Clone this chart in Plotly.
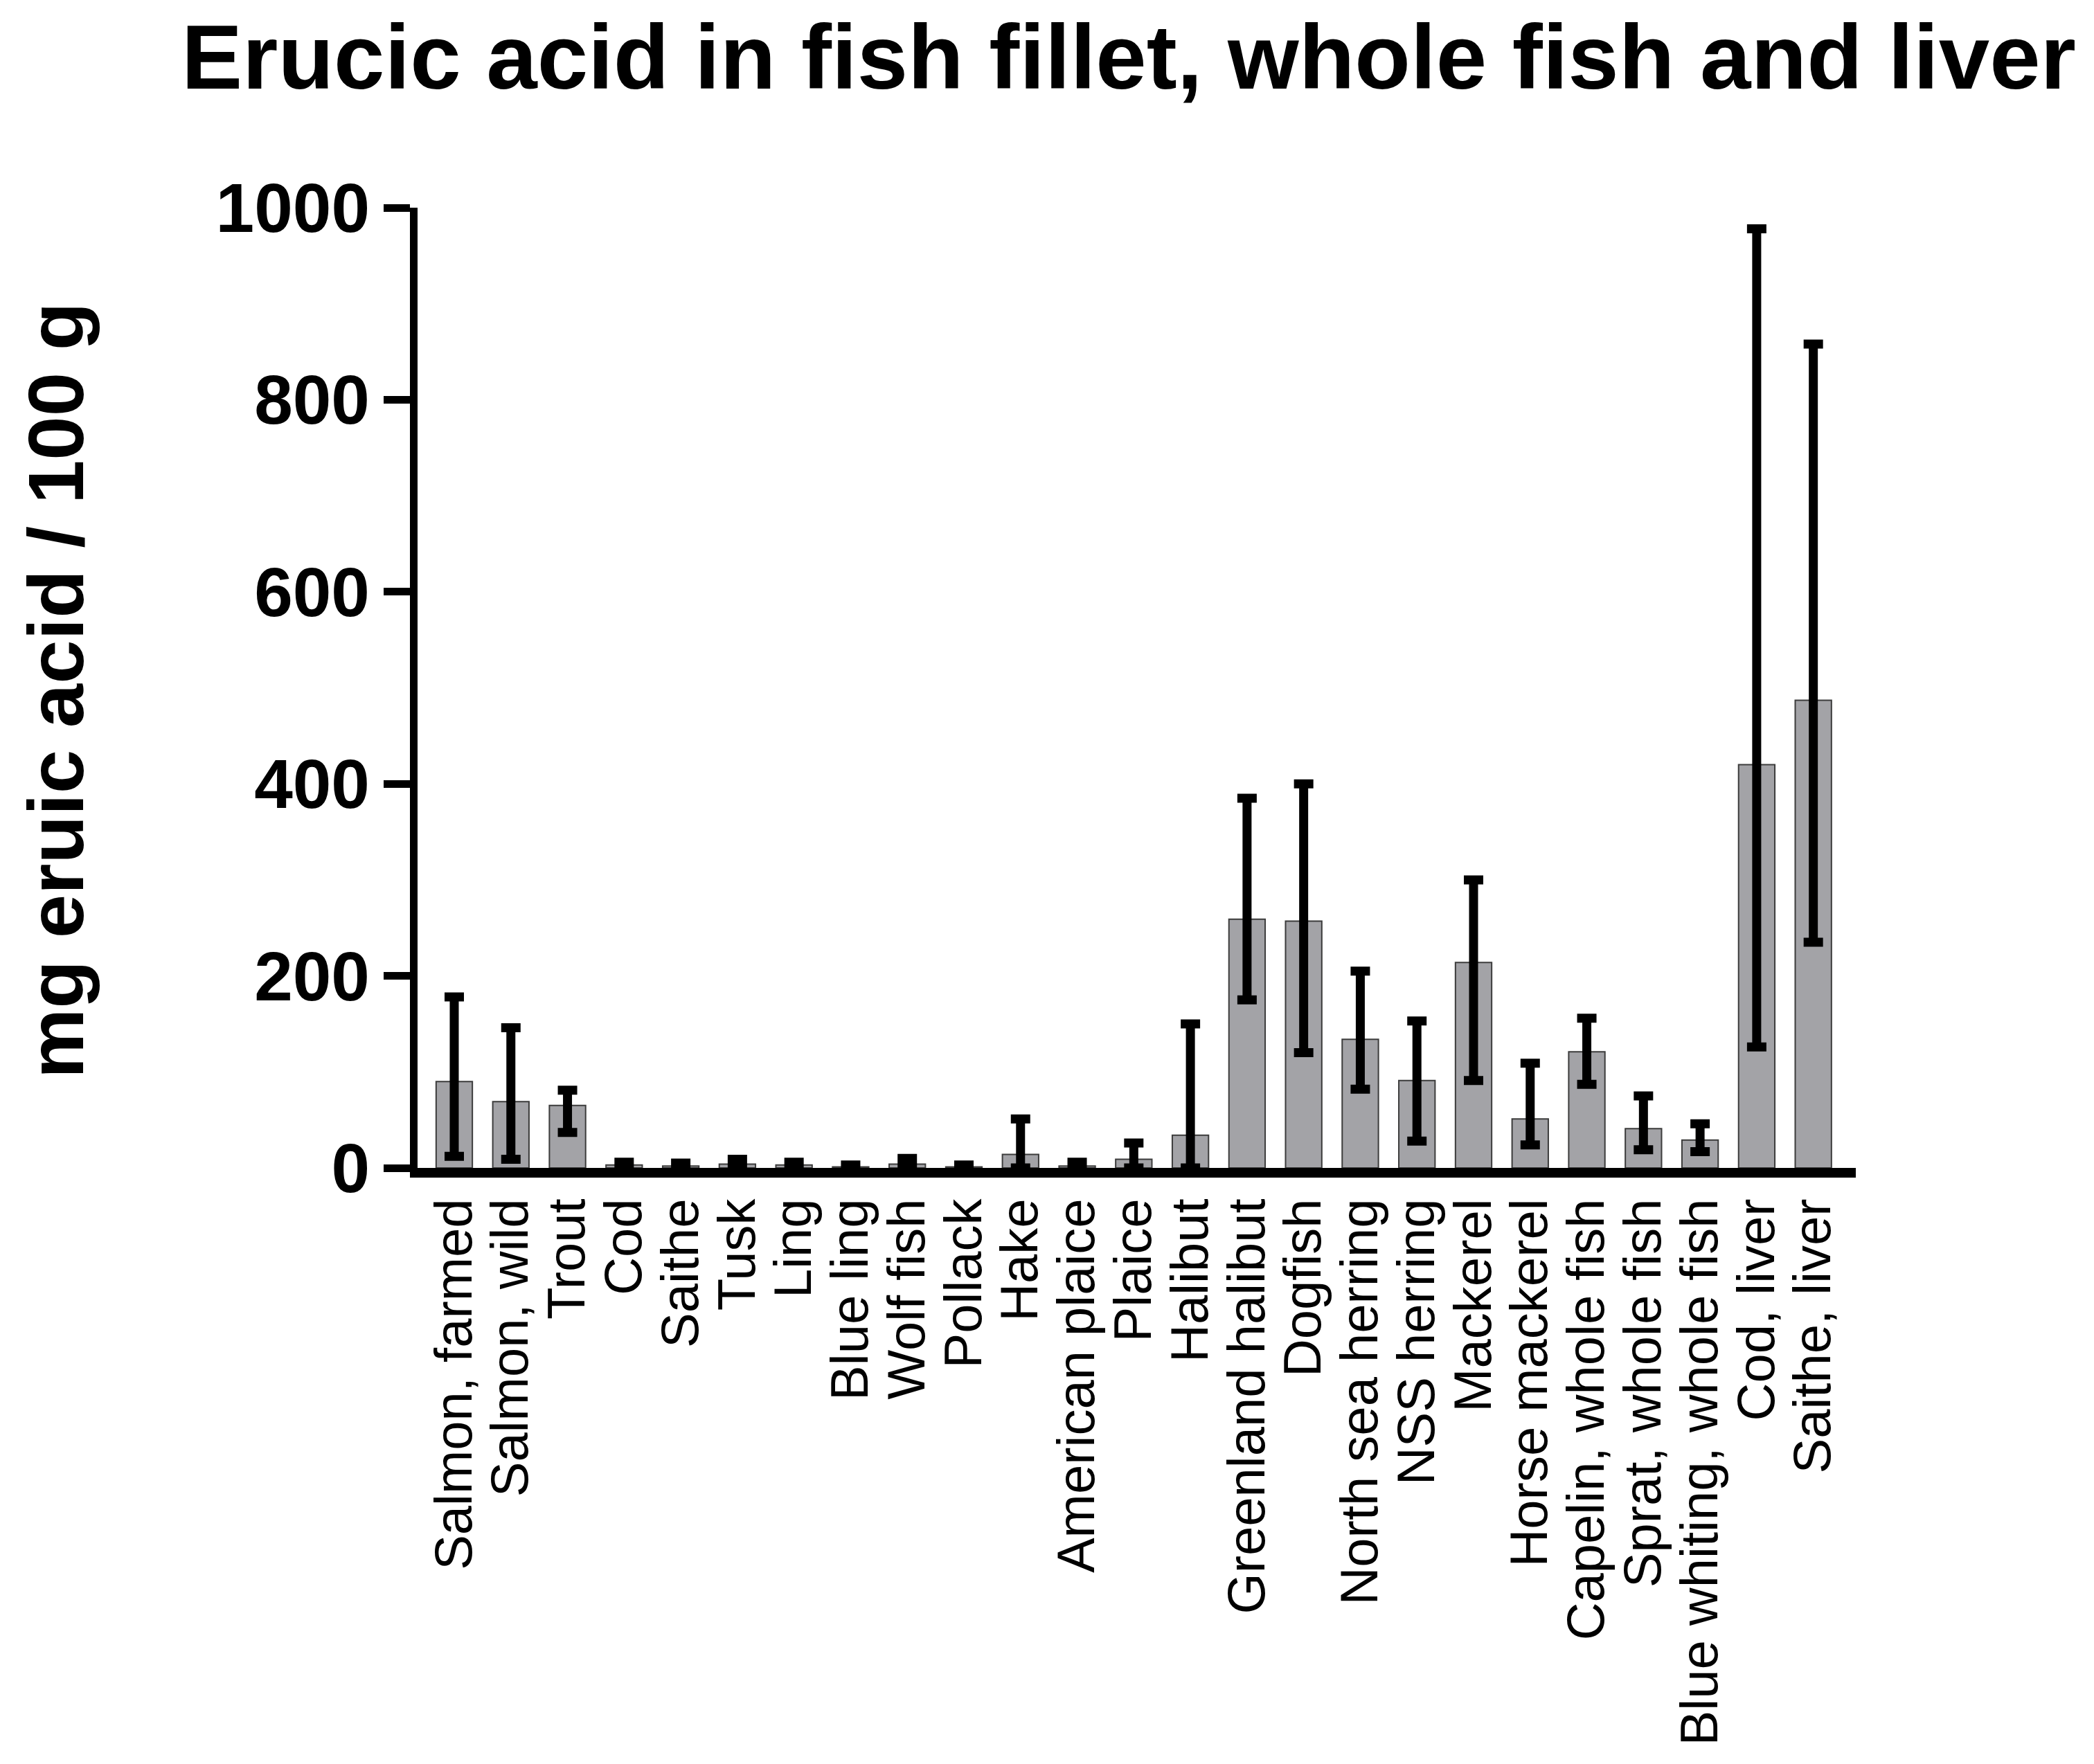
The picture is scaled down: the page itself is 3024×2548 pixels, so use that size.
import plotly.graph_objects as go

categories = ["Salmon, farmed", "Salmon, wild", "Trout", "Cod", "Saithe", "Tusk", "Ling",
              "Blue ling", "Wolf fish", "Pollack", "Hake", "American plaice", "Plaice",
              "Halibut", "Greenland halibut", "Dogfish", "North sea herring", "NSS herring",
              "Mackerel", "Horse mackerel", "Capelin, whole fish", "Sprat, whole fish",
              "Blue whiting, whole fish", "Cod, liver", "Saithe, liver"]
means = [90, 69, 65, 3, 2, 4, 3, 1, 4, 1, 14, 2, 9, 34, 259, 257, 134, 91, 214, 51, 121, 41, 29, 420, 487]
upper = [178, 146, 81, 6, 5, 9, 6, 3, 10, 3, 51, 6, 26, 150, 385, 400, 205, 153, 300, 109, 156, 75, 46, 978, 858]
lower = [12, 9, 37, 1, 0, 1, 1, 0, 1, 0, 0, 0, 0, 0, 175, 120, 82, 28, 91, 24, 87, 19, 17, 126, 235]
y_ticks = [0, 200, 400, 600, 800, 1000]

err_plus = [u - m for u, m in zip(upper, means)]
err_minus = [m - l for m, l in zip(means, lower)]

W, H = 3024, 2548
L, R, T, B = 595, 2672, 292, 1679
FONT = "Liberation Sans, Arial, sans-serif"

fig = go.Figure()
fig.add_trace(go.Bar(
    x=categories, y=means,
    marker=dict(color="#a3a3a7", line=dict(color="#3c3c3c", width=2)),
    error_y=dict(type="data", symmetric=False, array=err_plus, arrayminus=err_minus,
                 color="black", thickness=13, width=14),
    showlegend=False,
))

fig.update_layout(
    width=W, height=H,
    margin=dict(l=L, r=W - R, t=T, b=H - B, pad=0),
    plot_bgcolor="white", paper_bgcolor="white",
    bargap=0.36,
    font=dict(family=FONT, color="black"),
    title=dict(text="<b>Erucic acid in fish fillet, whole fish and liver</b>",
               x=1622 / W, xanchor="center", xref="container",
               y=1 - 74 / H, yanchor="middle", yref="container",
               font=dict(size=132, color="black", family=FONT)),
    xaxis=dict(
        type="category", range=[-0.648, 24.75],
        tickmode="array", tickvals=categories, ticktext=categories,
        showline=True, linecolor="black", linewidth=14,
        ticks="", tickangle=-90,
        tickfont=dict(size=76, color="black", family=FONT),
        showgrid=False, zeroline=False,
    ),
    yaxis=dict(
        range=[0, 1000], tickmode="array", tickvals=y_ticks,
        ticktext=["<b>%d</b>" % v for v in y_ticks],
        showline=True, linecolor="black", linewidth=11,
        ticks="outside", ticklen=38, tickwidth=11, tickcolor="black",
        tickfont=dict(size=100, color="black", family=FONT),
        showgrid=False, zeroline=False,
    ),
    annotations=[dict(
        text="<b>mg eruic acid / 100 g</b>", textangle=-90,
        xref="paper", yref="paper",
        x=(72 - L) / (R - L), y=(B - 990) / (B - T),
        xanchor="center", yanchor="middle", showarrow=False,
        font=dict(size=114, color="black", family=FONT),
    )],
)

fig.write_html("out.html")
